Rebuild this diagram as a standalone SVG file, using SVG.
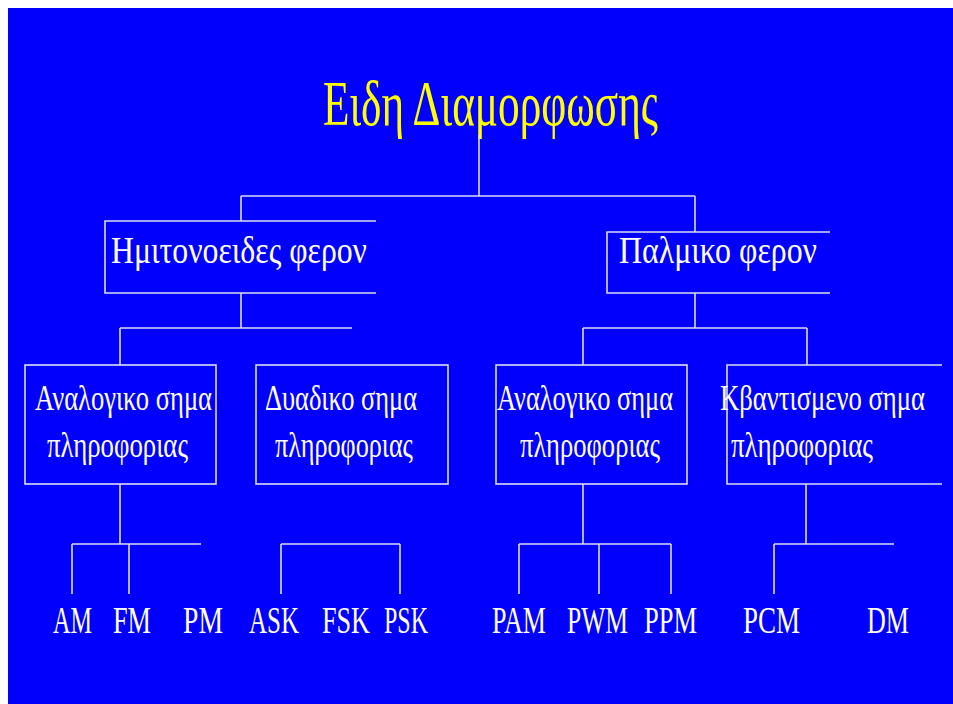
<svg xmlns="http://www.w3.org/2000/svg" width="953" height="704" viewBox="0 0 953 704">
<style>
.ln{fill:none;stroke:#dcdcf4;stroke-width:1.6}
.t{font-family:"Liberation Serif","Times New Roman",serif;fill:#ffffff}
.title{font-family:"Liberation Serif","Times New Roman",serif;fill:#ffff00;font-size:64px}
.n{font-size:38px}
.b{font-size:35px}
.l{font-size:38px}
</style>
<rect x="0" y="0" width="953" height="704" fill="#ffffff"/>
<rect x="8" y="8" width="945" height="696" fill="#0000fc"/>
<g id="title">
<text class="title" x="323" y="125" textLength="335" lengthAdjust="spacingAndGlyphs">Ειδη Διαμορφωσης</text>
</g>
<g id="connectors" class="ln">
<path d="M479,135 V196 M241,196 H695 M241,196 V221 M695,196 V232"/>
<path d="M241,293 V328 M120,328 H352 M120,328 V365"/>
<path d="M695,293 V328 M583,328 H807 M583,328 V365 M807,328 V365"/>
<path d="M120,484 V544 M72,544 H201 M72,544 V594 M129,544 V594"/>
<path d="M281,544 H400 M281,544 V594 M400,544 V594"/>
<path d="M583,484 V544 M519,544 H671 M519,544 V594 M599,544 V594 M671,544 V594"/>
<path d="M806,484 V544 M774,544 H894 M774,544 V594"/>
</g>
<g id="node-imitonoeides">
<path class="ln" d="M376,221 H105 V293 H376"/>
<text class="t n" x="111" y="263" textLength="256" lengthAdjust="spacingAndGlyphs">Ημιτονοειδες φερον</text>
</g>
<g id="node-palmiko">
<path class="ln" d="M830,232 H607 V293 H830"/>
<text class="t n" x="619" y="263" textLength="198" lengthAdjust="spacingAndGlyphs">Παλμικο φερον</text>
</g>
<g id="node-analogiko1">
<rect class="ln" x="25" y="365" width="191" height="119"/>
<text class="t b" x="35" y="410" textLength="177" lengthAdjust="spacingAndGlyphs">Αναλογικο σημα</text>
<text class="t b" x="47" y="457" textLength="141" lengthAdjust="spacingAndGlyphs">πληροφοριας</text>
</g>
<g id="node-dyadiko">
<rect class="ln" x="256" y="365" width="192" height="119"/>
<text class="t b" x="265" y="410" textLength="152" lengthAdjust="spacingAndGlyphs">Δυαδικο σημα</text>
<text class="t b" x="275" y="457" textLength="138" lengthAdjust="spacingAndGlyphs">πληροφοριας</text>
</g>
<g id="node-analogiko2">
<rect class="ln" x="496" y="365" width="191" height="119"/>
<text class="t b" x="497" y="410" textLength="176" lengthAdjust="spacingAndGlyphs">Αναλογικο σημα</text>
<text class="t b" x="520" y="457" textLength="140" lengthAdjust="spacingAndGlyphs">πληροφοριας</text>
</g>
<g id="node-kvantismeno">
<path class="ln" d="M942,365 H727 V484 H942"/>
<text class="t b" x="720" y="410" textLength="205" lengthAdjust="spacingAndGlyphs">Κβαντισμενο σημα</text>
<text class="t b" x="731" y="457" textLength="142" lengthAdjust="spacingAndGlyphs">πληροφοριας</text>
</g>
<g id="node-AM"><text class="t l" x="53" y="633" textLength="39" lengthAdjust="spacingAndGlyphs">AM</text></g>
<g id="node-FM"><text class="t l" x="113" y="633" textLength="38" lengthAdjust="spacingAndGlyphs">FM</text></g>
<g id="node-PM"><text class="t l" x="183" y="633" textLength="40" lengthAdjust="spacingAndGlyphs">PM</text></g>
<g id="node-ASK"><text class="t l" x="249" y="633" textLength="50" lengthAdjust="spacingAndGlyphs">ASK</text></g>
<g id="node-FSK"><text class="t l" x="322" y="633" textLength="48" lengthAdjust="spacingAndGlyphs">FSK</text></g>
<g id="node-PSK"><text class="t l" x="384" y="633" textLength="44" lengthAdjust="spacingAndGlyphs">PSK</text></g>
<g id="node-PAM"><text class="t l" x="492" y="633" textLength="54" lengthAdjust="spacingAndGlyphs">PAM</text></g>
<g id="node-PWM"><text class="t l" x="567" y="633" textLength="61" lengthAdjust="spacingAndGlyphs">PWM</text></g>
<g id="node-PPM"><text class="t l" x="644" y="633" textLength="53" lengthAdjust="spacingAndGlyphs">PPM</text></g>
<g id="node-PCM"><text class="t l" x="743" y="633" textLength="57" lengthAdjust="spacingAndGlyphs">PCM</text></g>
<g id="node-DM"><text class="t l" x="867" y="633" textLength="42" lengthAdjust="spacingAndGlyphs">DM</text></g>
</svg>
